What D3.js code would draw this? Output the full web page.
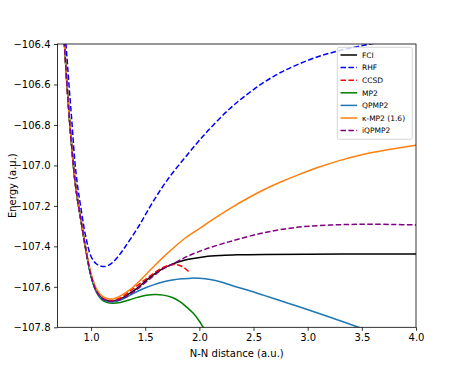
<!DOCTYPE html>
<html>
<head>
<meta charset="utf-8">
<script src="https://cdn.jsdelivr.net/npm/d3@7"></script>
<style>
  html, body { margin: 0; padding: 0; background: #fff; }
  svg { display: block; }
  text { font-family: "DejaVu Sans", sans-serif; }
</style>
</head>
<body>
<div id="chart"></div>
<script>
// ---- Data ----
const xTicks = [1.0, 1.5, 2.0, 2.5, 3.0, 3.5, 4.0];
const yTicks = [-106.4, -106.6, -106.8, -107.0, -107.2, -107.4, -107.6, -107.8];

const fciR = [0.74, 0.775, 0.80, 0.825, 0.85, 0.875, 0.90, 0.95, 1.00, 1.05, 1.10, 1.15, 1.20, 1.27, 1.35, 1.43, 1.51, 1.59, 1.67, 1.74, 1.82, 1.90, 2.05, 2.20, 2.35, 2.6, 3.0, 3.5, 4.0];
const fciE = [-106.27, -106.58, -106.77, -106.93, -107.07, -107.17, -107.25, -107.41, -107.545, -107.62, -107.655, -107.668, -107.67, -107.66, -107.635, -107.605, -107.568, -107.535, -107.508, -107.49, -107.475, -107.464, -107.451, -107.445, -107.442, -107.44, -107.439, -107.438, -107.438];

const rhfR = [0.74, 0.775, 0.80, 0.825, 0.85, 0.875, 0.90, 0.95, 1.00, 1.05, 1.10, 1.12, 1.15, 1.20, 1.25, 1.314, 1.437, 1.56, 1.70, 1.90, 2.08, 2.28, 2.45, 2.60, 2.75, 2.90, 3.10, 3.30, 3.60, 4.0];
const rhfE = [-106.2, -106.45, -106.63, -106.80, -106.98, -107.10, -107.19, -107.35, -107.45, -107.487, -107.499, -107.5, -107.497, -107.479, -107.45, -107.403, -107.303, -107.19, -107.075, -106.94, -106.828, -106.72, -106.645, -106.588, -106.541, -106.503, -106.462, -106.432, -106.398, -106.365];

const ccsdR = [0.74, 0.775, 0.80, 0.825, 0.85, 0.875, 0.90, 0.95, 1.00, 1.05, 1.10, 1.15, 1.20, 1.27, 1.35, 1.43, 1.51, 1.60, 1.67, 1.73, 1.78, 1.83, 1.87, 1.90];
const ccsdE = [-106.27, -106.58, -106.77, -106.93, -107.07, -107.17, -107.25, -107.41, -107.545, -107.62, -107.655, -107.666, -107.667, -107.655, -107.625, -107.593, -107.56, -107.525, -107.503, -107.492, -107.49, -107.497, -107.51, -107.524];

const mp2R = [0.74, 0.775, 0.80, 0.825, 0.85, 0.875, 0.90, 0.95, 1.00, 1.05, 1.10, 1.15, 1.20, 1.27, 1.35, 1.43, 1.51, 1.59, 1.667, 1.75, 1.82, 1.88, 1.944, 2.0, 2.036, 2.08];
const mp2E = [-106.27, -106.58, -106.77, -106.93, -107.07, -107.17, -107.25, -107.415, -107.55, -107.628, -107.665, -107.678, -107.681, -107.677, -107.665, -107.652, -107.642, -107.638, -107.641, -107.653, -107.673, -107.699, -107.731, -107.77, -107.80, -107.83];

const qpmp2R = [0.74, 0.775, 0.80, 0.825, 0.85, 0.875, 0.90, 0.95, 1.00, 1.05, 1.10, 1.15, 1.20, 1.27, 1.35, 1.43, 1.51, 1.59, 1.67, 1.75, 1.85, 1.93, 2.0, 2.1, 2.2, 2.3, 2.45, 2.59, 2.75, 2.9, 3.05, 3.2, 3.45, 3.6];
const qpmp2E = [-106.27, -106.58, -106.77, -106.93, -107.07, -107.17, -107.25, -107.41, -107.548, -107.624, -107.66, -107.672, -107.674, -107.665, -107.645, -107.622, -107.603, -107.588, -107.575, -107.566, -107.56, -107.557, -107.558, -107.564, -107.576, -107.593, -107.617, -107.641, -107.669, -107.695, -107.722, -107.749, -107.796, -107.826];

const kmp2R = [0.74, 0.775, 0.80, 0.825, 0.85, 0.875, 0.90, 0.95, 1.00, 1.05, 1.10, 1.15, 1.20, 1.27, 1.36, 1.44, 1.514, 1.59, 1.667, 1.76, 1.852, 2.0, 2.15, 2.3, 2.45, 2.6, 2.75, 2.9, 3.1, 3.3, 3.5, 3.75, 4.0];
const kmp2E = [-106.27, -106.58, -106.77, -106.93, -107.07, -107.17, -107.25, -107.405, -107.535, -107.61, -107.645, -107.658, -107.66, -107.645, -107.614, -107.575, -107.535, -107.493, -107.453, -107.408, -107.366, -107.312, -107.258, -107.207, -107.161, -107.119, -107.082, -107.049, -107.009, -106.975, -106.947, -106.921, -106.9];

const iqpmp2R = [0.74, 0.775, 0.80, 0.825, 0.85, 0.875, 0.90, 0.95, 1.00, 1.05, 1.10, 1.15, 1.20, 1.27, 1.35, 1.43, 1.51, 1.59, 1.67, 1.75, 1.82, 1.90, 2.05, 2.20, 2.35, 2.6, 2.9, 3.2, 3.5, 3.8, 4.0];
const iqpmp2E = [-106.27, -106.58, -106.77, -106.93, -107.07, -107.17, -107.25, -107.41, -107.545, -107.622, -107.657, -107.67, -107.672, -107.663, -107.64, -107.61, -107.575, -107.54, -107.51, -107.488, -107.468, -107.447, -107.415, -107.389, -107.366, -107.332, -107.306, -107.295, -107.291, -107.292, -107.294];

const seriesNames = ["FCI", "RHF", "CCSD", "MP2", "QPMP2", "\u03BA-MP2 (1.6)", "iQPMP2"];
const seriesColors = ["#000000", "#0000ff", "#ff0000", "#008000", "#1f77b4", "#ff7f0e", "#800080"];
const seriesDashed = [false, true, true, false, false, false, true];
const seriesR = [fciR, rhfR, ccsdR, mp2R, qpmp2R, kmp2R, iqpmp2R];
const seriesE = [fciE, rhfE, ccsdE, mp2E, qpmp2E, kmp2E, iqpmp2E];

// ---- Layout ----
const W = 463, H = 368;
const plot = { left: 57.5, right: 416, top: 44, bottom: 327.3 };

const svg = d3.select("#chart").append("svg")
  .attr("width", W).attr("height", H);

const x = d3.scaleLinear().domain([0.69, 4.0]).range([plot.left, plot.right]);
const y = d3.scaleLinear().domain([-107.8, -106.4]).range([plot.bottom, plot.top]);

svg.append("defs").append("clipPath").attr("id", "clip")
  .append("rect")
  .attr("x", plot.left).attr("y", plot.top)
  .attr("width", plot.right - plot.left).attr("height", plot.bottom - plot.top);

const fmt = v => d3.format(".1f")(v).replace("-", "\u2212");

// Axes
const xAxis = d3.axisBottom(x).tickValues(xTicks).tickFormat(d3.format(".1f")).tickSizeInner(3.5).tickSizeOuter(0).tickPadding(3.5);
const yAxis = d3.axisLeft(y).tickValues(yTicks).tickFormat(fmt).tickSizeInner(3.5).tickSizeOuter(0).tickPadding(3.5);

const gx = svg.append("g").attr("transform", `translate(0,${plot.bottom})`).call(xAxis);
const gy = svg.append("g").attr("transform", `translate(${plot.left},0)`).call(yAxis);
[gx, gy].forEach(g => {
  g.select(".domain").remove();
  g.selectAll(".tick line").attr("stroke", "#000").attr("stroke-width", 0.8);
  g.selectAll(".tick text").attr("fill", "#000").attr("font-size", 10).attr("font-family", "DejaVu Sans, sans-serif");
});

// Curves
const line = d3.line()
  .x(d => x(d[0])).y(d => y(d[1]))
  .curve(d3.curveCatmullRom.alpha(0.5));

const curves = svg.append("g").attr("clip-path", "url(#clip)");
seriesNames.forEach((name, i) => {
  const pts = seriesR[i].map((r, j) => [r, seriesE[i][j]]);
  curves.append("path")
    .datum(pts)
    .attr("d", line)
    .attr("fill", "none")
    .attr("stroke", seriesColors[i])
    .attr("stroke-width", 1.5)
    .attr("stroke-dasharray", seriesDashed[i] ? "5.5,2.4" : null);
});

// Frame
svg.append("rect")
  .attr("x", plot.left).attr("y", plot.top)
  .attr("width", plot.right - plot.left).attr("height", plot.bottom - plot.top)
  .attr("fill", "none").attr("stroke", "#000").attr("stroke-width", 0.8);

// Axis labels
svg.append("text")
  .attr("x", (plot.left + plot.right) / 2).attr("y", 357)
  .attr("text-anchor", "middle").attr("font-size", 10).attr("fill", "#000")
  .text("N-N distance (a.u.)");
svg.append("text")
  .attr("transform", `translate(15.5,${(plot.top + plot.bottom) / 2}) rotate(-90)`)
  .attr("text-anchor", "middle").attr("font-size", 10).attr("fill", "#000")
  .text("Energy (a.u.)");

// Legend
const leg = svg.append("g");
leg.append("rect")
  .attr("x", 337.3).attr("y", 47.3).attr("width", 75).attr("height", 92)
  .attr("rx", 2).attr("ry", 2)
  .attr("fill", "#fff").attr("fill-opacity", 0.8)
  .attr("stroke", "#cccccc").attr("stroke-width", 0.8);
seriesNames.forEach((name, i) => {
  const cy = 55 + i * 12.6;
  leg.append("line")
    .attr("x1", 340.5).attr("x2", 357).attr("y1", cy).attr("y2", cy)
    .attr("stroke", seriesColors[i]).attr("stroke-width", 1.5)
    .attr("stroke-dasharray", seriesDashed[i] ? "5.5,2.4" : null);
  leg.append("text")
    .attr("x", 362).attr("y", cy + 2.7)
    .attr("font-size", 7.5).attr("fill", "#000")
    .text(name);
});
</script>
</body>
</html>
